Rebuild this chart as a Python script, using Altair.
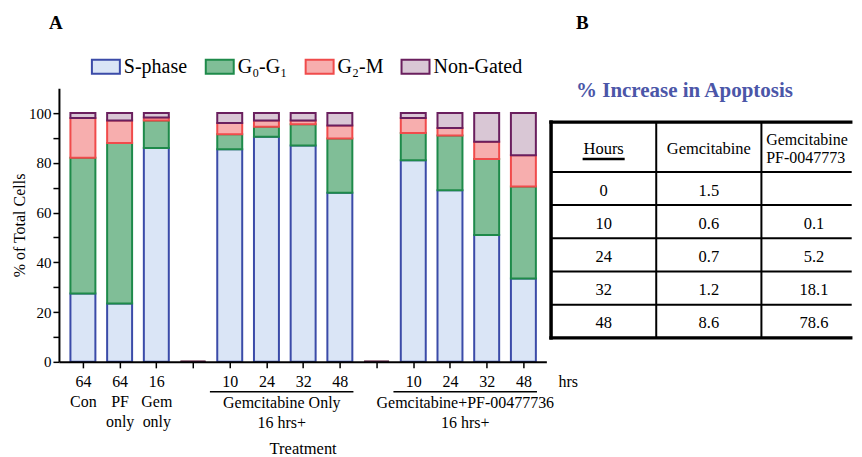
import json
import altair as alt
import pandas as pd

# ---------------- data ----------------
slot_keys = ["Con", "PF", "Gem", "gap1", "G10", "G24", "G32", "G48", "gap2", "C10", "C24", "C32", "C48"]
tick_hours = ["64", "64", "16", "", "10", "24", "32", "48", "", "10", "24", "32", "48"]
tick_names = ["Con", "PF|only", "Gem|only", "", "", "", "", "", "", "", "", "", ""]

s_phase = [27.5, 23.5, 86.0, 0, 85.5, 90.5, 87.0, 68.0, 0, 81.0, 69.0, 51.0, 33.5]
g0_g1 = [54.5, 64.5, 11.0, 0, 6.0, 4.0, 8.5, 21.8, 0, 11.0, 22.0, 30.5, 37.0]
g2_m = [16.0, 9.0, 1.2, 0, 4.5, 2.5, 1.5, 5.2, 0, 6.0, 3.0, 7.0, 12.5]
non_gated = [2.0, 3.0, 1.8, 0, 4.0, 3.0, 3.0, 5.0, 0, 2.0, 6.0, 11.5, 17.0]

phases = ["S-phase", "G\u2080-G\u2081", "G\u2082-M", "Non-Gated"]
fill_colors = ["#DAE5F6", "#80BE97", "#F7AEAE", "#D9C7D5"]
stroke_colors = ["#3B4BA8", "#1E8A4A", "#F04B4B", "#6A1F5E"]

group_labels = ["Gemcitabine Only\n16 hrs+", "Gemcitabine+PF-00477736\n16 hrs+"]
group_first = [4, 9]
group_last = [7, 12]

table_title = "% Increase in Apoptosis"
table_header = ["Hours", "Gemcitabine", "Gemcitabine+\nPF-00477736"]
table_hours = ["0", "10", "24", "32", "48"]
table_gem = ["1.5", "0.6", "0.7", "1.2", "8.6"]
table_combo = ["", "0.1", "5.2", "18.1", "78.6"]

FONT = "Liberation Serif"

# ---------------- bar chart (A) ----------------
rows = []
series = [s_phase, g0_g1, g2_m, non_gated]
for i, key in enumerate(slot_keys):
    for p, vals in enumerate(series):
        rows.append({"slot": i, "key": key, "phase": phases[p], "order": p, "value": vals[i]})
bars_df = pd.DataFrame(rows)

x_scale = alt.Scale(domain=[-0.653, 12.626], nice=False, zero=False)
y_scale = alt.Scale(domain=[0, 110], nice=False, zero=True)

label_js = json.dumps([h + ("|" + n if n else "") for h, n in zip(tick_hours, tick_names)])

x_axis = alt.Axis(
    values=list(range(len(slot_keys))),
    labelExpr=f"split({label_js}[datum.value], '|')",
    title="Treatment",
    titleFont=FONT, titleFontSize=16.5, titleFontWeight="normal", titleColor="black",
    titlePadding=11,
    labelFont=FONT, labelFontSize=16, labelColor="black", labelLineHeight=20,
    labelPadding=6, labelFlush=False, labelOverlap=False, labelBound=False,
    tickSize=6, tickWidth=1.5, tickColor="black",
    domainWidth=2, domainColor="black", grid=False, zindex=1,
)
y_axis = alt.Axis(
    values=list(range(0, 101, 10)),
    labelExpr="datum.value % 20 === 0 ? datum.label : ''",
    title="% of Total Cells",
    titleFont=FONT, titleFontSize=16, titleFontWeight="normal", titleColor="black",
    titlePadding=0.5,
    labelFont=FONT, labelFontSize=15, labelColor="black", labelPadding=2,
    tickSize=6, tickWidth=1.5, tickColor="black",
    domainWidth=2, domainColor="black", grid=False, zindex=1,
)

legend = alt.Legend(
    title=None, orient="none", legendX=32, legendY=-36.5, direction="horizontal",
    symbolType="M-1,-0.5H1V0.5H-1Z", symbolSize=784, symbolStrokeWidth=2,
    labelFont=FONT, labelFontSize=20, labelColor="black", labelOffset=3,
    columnPadding=14,
)

bars = alt.Chart(bars_df).transform_stack(
    stack="value", groupby=["slot"], as_=["y0", "y1"],
    sort=[alt.SortField("order", order="ascending")],
).transform_calculate(
    xl="datum.slot - 0.34", xr="datum.slot + 0.34"
).mark_rect(strokeWidth=2).encode(
    x=alt.X("xl:Q", scale=x_scale, axis=x_axis),
    x2="xr:Q",
    y=alt.Y("y0:Q", scale=y_scale, axis=y_axis),
    y2="y1:Q",
    fill=alt.Fill("phase:N", scale=alt.Scale(domain=phases, range=fill_colors), legend=legend),
    stroke=alt.Stroke("phase:N", scale=alt.Scale(domain=phases, range=stroke_colors), legend=legend),
)

grp_df = pd.DataFrame({"label": group_labels, "first": group_first, "last": group_last})

grp_text = alt.Chart(grp_df).transform_calculate(
    center="(datum.first + datum.last) / 2"
).mark_text(font=FONT, fontSize=16, color="black", lineBreak="\n", lineHeight=20,
            baseline="top", dx=-3).encode(
    x=alt.X("center:Q", title="Treatment"),
    y=alt.value(307),
    text="label:N",
)

grp_rule = alt.Chart(grp_df).transform_calculate(
    ul_l="datum.first - 0.54", ul_r="datum.last + 0.37"
).mark_rule(color="black", strokeWidth=1.5).encode(
    x=alt.X("ul_l:Q", title="Treatment"),
    x2="ul_r:Q",
    y=alt.value(304),
)

hrs_text = alt.Chart(pd.DataFrame({"label": ["hrs"], "pos": [13.22]})).mark_text(
    font=FONT, fontSize=16, color="black", baseline="middle"
).encode(
    x=alt.X("pos:Q", title="Treatment"),
    y=alt.value(294),
    text="label:N",
)

left = alt.layer(bars, grp_text, grp_rule, hrs_text).properties(
    width=488, height=274,
    title=alt.TitleParams(text="A", anchor="start", frame="group", dx=-10, offset=55.5,
                          font=FONT, fontSize=19, fontWeight="bold", color="black"),
)

# ---------------- table (B) ----------------
HEADER_H = 1.5
TOP_GAP = 1.023   # blank band above the table (holds the table title), in row units
COL_W_PX = 105.3
TABLE_W = 300
XMAX = TABLE_W / COL_W_PX
n_rows = len(table_hours)
y_bottom = HEADER_H + n_rows

h_y = [0.0, HEADER_H] + [HEADER_H + r + 1 for r in range(n_rows)]
h_lines = pd.DataFrame({
    "y": h_y,
    "x0": [0.0] * len(h_y),
    "x1": [XMAX] * len(h_y),
    "w": [3.5 if (v == 0 or v == y_bottom) else 2.0 for v in h_y],
})
v_x = list(range(len(table_header)))
v_lines = pd.DataFrame({
    "x": v_x,
    "y0": [0.0] * len(v_x),
    "y1": [y_bottom] * len(v_x),
    "w": [3.5 if v == 0 else 2.0 for v in v_x],
})

texts = []
for c, h in enumerate(table_header[:-1]):
    texts.append({"xc": c + 0.5, "yc": HEADER_H / 2, "t": h})
for r, vals in enumerate(zip(table_hours, table_gem, table_combo)):
    for c, v in enumerate(vals):
        texts.append({"xc": c + 0.5, "yc": HEADER_H + r + 0.5, "t": v})
texts_df = pd.DataFrame(texts)
last_head_df = pd.DataFrame({"xl": [len(table_header) - 1 + 0.045], "yc": [HEADER_H / 2],
                             "t": [table_header[-1]]})

tx = alt.Scale(domain=[0, XMAX], nice=False, zero=False)
ty = alt.Scale(domain=[-TOP_GAP, y_bottom], nice=False, zero=False, reverse=True)

h_rules = alt.Chart(h_lines).mark_rule(color="black", strokeCap="square").encode(
    x=alt.X("x0:Q", scale=tx, axis=None), x2="x1:Q",
    y=alt.Y("y:Q", scale=ty, axis=None),
    strokeWidth=alt.StrokeWidth("w:Q", scale=None, legend=None),
)
v_rules = alt.Chart(v_lines).mark_rule(color="black", strokeCap="square").encode(
    x=alt.X("x:Q", scale=tx, axis=None),
    y=alt.Y("y0:Q", scale=ty, axis=None), y2="y1:Q",
    strokeWidth=alt.StrokeWidth("w:Q", scale=None, legend=None),
)
cell_text = alt.Chart(texts_df).mark_text(
    font=FONT, fontSize=16.5, color="black", baseline="middle", dy=2
).encode(
    x=alt.X("xc:Q", scale=tx, axis=None),
    y=alt.Y("yc:Q", scale=ty, axis=None),
    text="t:N",
)
last_head = alt.Chart(last_head_df).mark_text(
    font=FONT, fontSize=16, color="black", lineBreak="\n", lineHeight=19,
    baseline="middle", align="left", dy=-7.5, limit=86, ellipsis=" "
).encode(
    x=alt.X("xl:Q", scale=tx, axis=None),
    y=alt.Y("yc:Q", scale=ty, axis=None),
    text="t:N",
)
hours_ul = alt.Chart(pd.DataFrame({"xc": [0.5], "yc": [HEADER_H / 2]})).transform_calculate(
    a="datum.xc - 0.2", b="datum.xc + 0.2", yy="datum.yc + 0.36"
).mark_rule(color="black", strokeWidth=2.5).encode(
    x=alt.X("a:Q", scale=tx, axis=None), x2="b:Q",
    y=alt.Y("yy:Q", scale=ty, axis=None),
)
title_text = alt.Chart(pd.DataFrame({"t": [table_title]})).mark_text(
    font=FONT, fontSize=21, fontWeight="bold", color="#4B56A8", align="left", baseline="middle"
).encode(
    x=alt.value(25),
    y=alt.value(3),
    text="t:N",
)

right = alt.layer(h_rules, v_rules, cell_text, last_head, hours_ul, title_text).properties(
    width=TABLE_W, height=250,
    title=alt.TitleParams(text="B", anchor="start", frame="group",
                          dx=25, offset=47.5, font=FONT, fontSize=19, fontWeight="bold", color="black"),
)

chart = alt.hconcat(left, right, spacing=4.7, bounds="flush").properties(
    padding={"left": 4, "top": 5, "right": 0, "bottom": 0}
).configure_view(strokeWidth=0)

chart.save("out.html", embed_options={"renderer": "svg", "actions": False})
